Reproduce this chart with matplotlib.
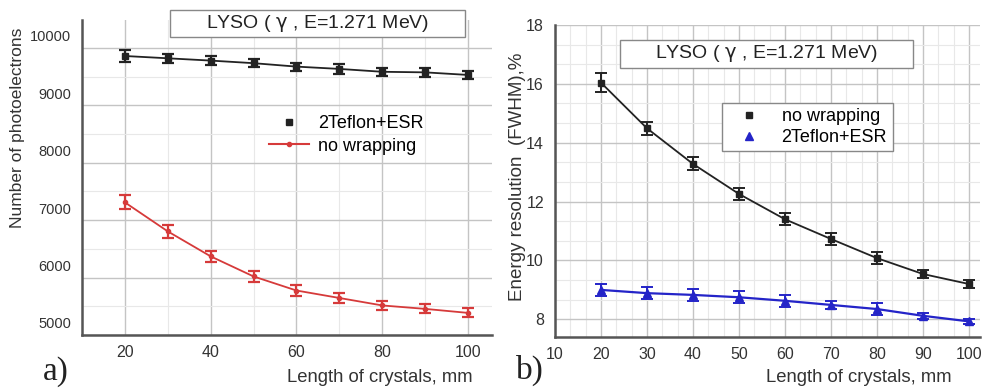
import matplotlib.pyplot as plt
import matplotlib.patches as patches
import matplotlib.transforms as mtransforms
from matplotlib.lines import Line2D
from matplotlib.ticker import MultipleLocator, AutoMinorLocator

plt.rcParams['font.family'] = ['Liberation Sans', 'DejaVu Sans']

# data
length = [20, 30, 40, 50, 60, 70, 80, 90, 100]

# a) number of photoelectrons
pe_esr = [9860, 9820, 9780, 9735, 9675, 9635, 9585, 9575, 9530]
pe_esr_err = [110, 75, 80, 70, 70, 80, 70, 80, 70]
pe_nowrap = [7310, 6805, 6370, 6020, 5775, 5645, 5515, 5455, 5385]
pe_nowrap_err = [120, 110, 100, 90, 100, 90, 80, 80, 80]

# b) energy resolution
res_nowrap = [16.04, 14.49, 13.28, 12.26, 11.40, 10.73, 10.08, 9.54, 9.20]
res_nowrap_err = [0.32, 0.22, 0.22, 0.2, 0.2, 0.22, 0.2, 0.15, 0.12]
res_esr = [9.00, 8.89, 8.83, 8.75, 8.63, 8.49, 8.35, 8.12, 7.93]
res_esr_err = [0.2, 0.2, 0.2, 0.2, 0.2, 0.15, 0.2, 0.1, 0.08]

title_text = r'LYSO ( $\mathrm{\gamma}$ , E=1.271 MeV)'

BLACK = '#222222'
RED = '#d63a3a'
BLUE = '#2424c8'
SPINE = '#555555'

fig = plt.figure(figsize=(9.85, 3.92), dpi=100)
W, H = 985, 392


def px_axes(x0, y0, x1, y1):
    # pixel box (top-left origin) -> figure axes
    return fig.add_axes([x0 / W, 1 - y1 / H, (x1 - x0) / W, (y1 - y0) / H])


def style(ax):
    for s in ['top', 'right']:
        ax.spines[s].set_visible(False)
    for s in ['left', 'bottom']:
        ax.spines[s].set_color(SPINE)
        ax.spines[s].set_linewidth(1.8)
    ax.grid(which='major', color='#c4c4c4', lw=1.0)
    ax.grid(which='minor', color='#e8e8e8', lw=0.8)
    ax.set_axisbelow(True)
    ax.tick_params(which='both', length=0, colors='#333333', labelsize=11.5)
    ax.tick_params(axis='x', pad=7)


def title_box(x0, y0, x1, y1):
    fig.patches.append(patches.Rectangle((x0 / W, 1 - y1 / H), (x1 - x0) / W, (y1 - y0) / H,
                                         transform=fig.transFigure, fc='white', ec='#888888',
                                         lw=1.0, zorder=5))
    fig.text((x0 + x1) / 2 / W, 1 - (y0 + y1) / 2 / H, title_text, ha='center', va='center',
             fontsize=14, color='#222222', zorder=6)


# ---------- a) ----------
ax1 = px_axes(82, 20, 492, 335)
style(ax1)
ax1.errorbar(length, pe_esr, yerr=pe_esr_err, color=BLACK, marker='s', ms=5, lw=1.3,
             elinewidth=1.6, capsize=4, capthick=1.6, label='2Teflon+ESR')
ax1.errorbar(length, pe_nowrap, yerr=pe_nowrap_err, color=RED, marker='o', ms=3, lw=1.3,
             elinewidth=1.6, capsize=4, capthick=1.6, label='no wrapping')
ax1.set_xlim(10, 105.6)
ax1.set_ylim(5000, 10487)
ax1.xaxis.set_major_locator(MultipleLocator(20))
ax1.xaxis.set_minor_locator(MultipleLocator(10))
ax1.yaxis.set_major_locator(MultipleLocator(1000))
ax1.yaxis.set_minor_locator(MultipleLocator(500))
ax1.tick_params(axis='y', labelsize=10.5, pad=8)
off = mtransforms.ScaledTranslation(0, 12 / 100, fig.dpi_scale_trans)
for lab in ax1.get_yticklabels():
    lab.set_transform(lab.get_transform() + off)

leg_h = [Line2D([], [], color=BLACK, marker='s', ms=5, ls='none'),
         Line2D([], [], color=RED, marker='o', ms=3, lw=1.5)]
ax1.legend(leg_h, ['2Teflon+ESR', 'no wrapping'], loc='upper left',
           bbox_to_anchor=(262 / W, 1 - 108 / H), borderaxespad=0,
           bbox_transform=fig.transFigure, frameon=False, fontsize=13,
           handlelength=2.2, handletextpad=0.5, labelspacing=0.3)

fig.text(18 / W, 1 - 128 / H, 'Number of photoelectrons', rotation=90, ha='center',
         va='center', fontsize=12.5, color='#333333')
fig.text(380 / W, 1 - 377 / H, 'Length of crystals, mm', ha='center', va='center',
         fontsize=13.3, color='#333333')
fig.text(56 / W, 1 - 372 / H, 'a)', ha='center', va='center', fontsize=24,
         family=['Liberation Serif', 'DejaVu Serif'], color='#222222')
title_box(170, 10, 465, 37)

# ---------- b) ----------
ax2 = px_axes(555, 25, 980, 337)
style(ax2)
ax2.errorbar(length, res_nowrap, yerr=res_nowrap_err, color=BLACK, marker='s', ms=5, lw=1.3,
             elinewidth=1.4, capsize=4, capthick=1.4, label='no wrapping')
ax2.errorbar(length, res_esr, yerr=res_esr_err, color=BLUE, marker='^', ms=6, lw=1.6,
             elinewidth=1.4, capsize=4, capthick=1.4, label='2Teflon+ESR')
ax2.set_xlim(10, 102.4)
ax2.set_ylim(7.4, 18)
ax2.xaxis.set_major_locator(MultipleLocator(10))
ax2.xaxis.set_minor_locator(AutoMinorLocator(3))
ax2.yaxis.set_major_locator(MultipleLocator(2))
ax2.yaxis.set_minor_locator(AutoMinorLocator(3))
ax2.tick_params(axis='y', pad=8)

leg_h2 = [Line2D([], [], color=BLACK, marker='s', ms=5, ls='none'),
          Line2D([], [], color=BLUE, marker='^', ms=6, ls='none')]
leg2 = ax2.legend(leg_h2, ['no wrapping', '2Teflon+ESR'], loc='upper left',
                  bbox_to_anchor=(722 / W, 1 - 103 / H), bbox_transform=fig.transFigure,
                  borderaxespad=0, fontsize=13, fancybox=False, edgecolor='#888888',
                  framealpha=1, handlelength=2.4, handletextpad=0.6, labelspacing=0.2,
                  borderpad=0.3)
leg2.get_frame().set_linewidth(1.0)

fig.text(518 / W, 1 - 177 / H, 'Energy resolution  (FWHM),%', rotation=90, ha='center',
         va='center', fontsize=13.5, color='#333333')
fig.text(859 / W, 1 - 377 / H, 'Length of crystals, mm', ha='center', va='center',
         fontsize=13.3, color='#333333')
fig.text(530 / W, 1 - 370 / H, 'b)', ha='center', va='center', fontsize=24,
         family=['Liberation Serif', 'DejaVu Serif'], color='#222222')
title_box(620, 40, 913, 68)

fig.savefig('out.png', dpi=100)
